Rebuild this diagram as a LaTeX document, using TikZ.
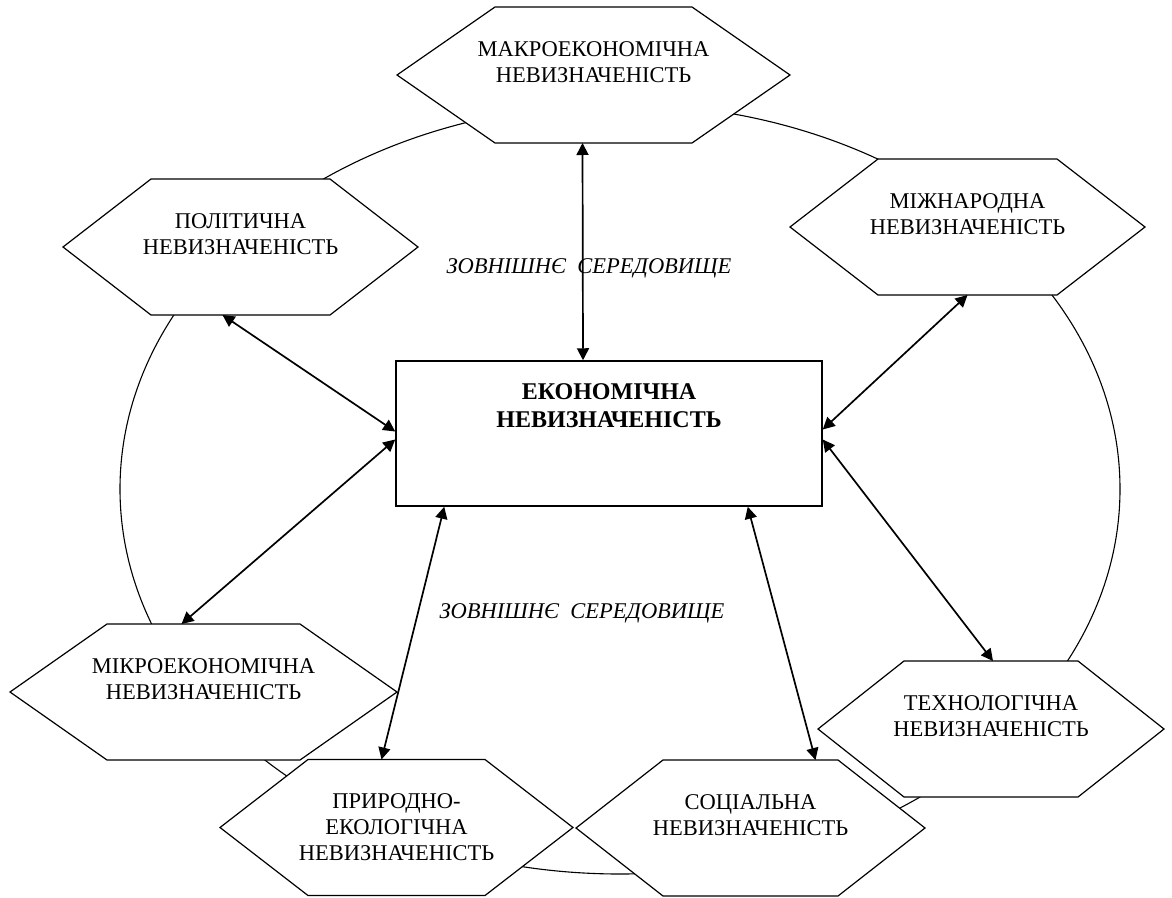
\documentclass[tikz,border=0pt]{standalone}
\usepackage{fontspec}
\setmainfont{Liberation Serif}
\usetikzlibrary{arrows.meta}
\usetikzlibrary{backgrounds}
\tikzset{
	hexa/.style = {align=center, inner sep=0pt,
		font=\fontsize{22.5}{26}\selectfont},% текст шестикутника
	hexline/.style = {draw=black, line width=1.2pt, line join=miter},% контур
	ring/.style = {draw=black, line width=1.1pt},% коло середовища
	econbox/.style = {rectangle, draw=black, fill=white, line width=1.5pt,
		minimum width=426pt, minimum height=145pt, align=center,
		font=\fontsize{24}{28}\selectfont\bfseries},% центральний блок
	extlabel/.style = {inner sep=0pt, font=\fontsize{22.5}{26}\selectfont\itshape},
	link/.style = {<->, line width=1.7pt}
}

\begin{document}
\begin{tikzpicture}[x=1pt, y=-1pt, >={Triangle[length=12pt,width=12pt]}]
	\useasboundingbox (0,0) rectangle (1172,897);
	\node [hexa] (makro) at (593.5,75) {МАКРОЕКОНОМІЧНА\\НЕВИЗНАЧЕНІСТЬ\\~};
	\node [hexa] (polit) at (240.5,247) {ПОЛІТИЧНА\\НЕВИЗНАЧЕНІСТЬ\\~};
	\node [hexa] (mizh) at (967.5,227) {МІЖНАРОДНА\\НЕВИЗНАЧЕНІСТЬ\\~};
	\node [hexa] (mikro) at (203.5,692) {МІКРОЕКОНОМІЧНА\\НЕВИЗНАЧЕНІСТЬ\\~};
	\node [hexa] (pryr) at (396.5,827.5) {ПРИРОДНО-\\ЕКОЛОГІЧНА\\НЕВИЗНАЧЕНІСТЬ};
	\node [hexa] (sots) at (750.5,828) {СОЦІАЛЬНА\\НЕВИЗНАЧЕНІСТЬ\\~};
	\node [hexa] (tekhno) at (991,729) {ТЕХНОЛОГІЧНА\\НЕВИЗНАЧЕНІСТЬ\\~};
	\node [econbox] (econ) at (609,433.5) {ЕКОНОМІЧНА\\НЕВИЗНАЧЕНІСТЬ\\~\\~};
	\node [extlabel] (ext1) at (589,268) {ЗОВНІШНЄ~~СЕРЕДОВИЩЕ};
	\node [extlabel] (ext2) at (582,613) {ЗОВНІШНЄ~~СЕРЕДОВИЩЕ};

	\begin{pgfonlayer}{background}
		\draw [ring] (620,489) ellipse [x radius=500, y radius=385];
		\foreach \n/\w/\d in {makro/98.5/98, polit/89.5/88, mizh/89.5/88, mikro/96.5/97,
			pryr/88.5/88, sots/87.5/87, tekhno/87/86}
			\fill [white] (\n.center) ++(-\w-\d,0) -- ++(\d,-68) -- ++(2*\w,0)
				-- ++(\d,68) -- ++(-\d,68) -- ++(-2*\w,0) -- cycle;
		\foreach \n/\w/\d in {makro/98.5/98, polit/89.5/88, mizh/89.5/88, mikro/96.5/97,
			pryr/88.5/88, sots/87.5/87, tekhno/87/86}
			\draw [hexline] (\n.center) ++(-\w-\d,0) -- ++(\d,-68) -- ++(2*\w,0)
				-- ++(\d,68) -- ++(-\d,68) -- ++(-2*\w,0) -- cycle;
	\end{pgfonlayer}

	\draw [link] ([shift={(-11,68)}]makro.center) -- ([xshift=-26pt]econ.north);
	\draw [link] ([shift={(-18,68)}]polit.center) -- ([yshift=2pt]econ.west);
	\draw [link] ([yshift=-6pt]econ.west) -- ([shift={(-22,-68)}]mikro.center);
	\draw [link] ([xshift=49pt]econ.south west) -- ([shift={(-15,-68)}]pryr.center);
	\draw [link] ([xshift=-75pt]econ.south east) -- ([shift={(65,-68)}]sots.center);
	\draw [link] ([yshift=-6pt]econ.east) -- ([shift={(2,-68)}]tekhno.center);
	\draw [link] ([shift={(0,68)}]mizh.center) -- ([yshift=4pt]econ.east);
\end{tikzpicture}
\end{document}
